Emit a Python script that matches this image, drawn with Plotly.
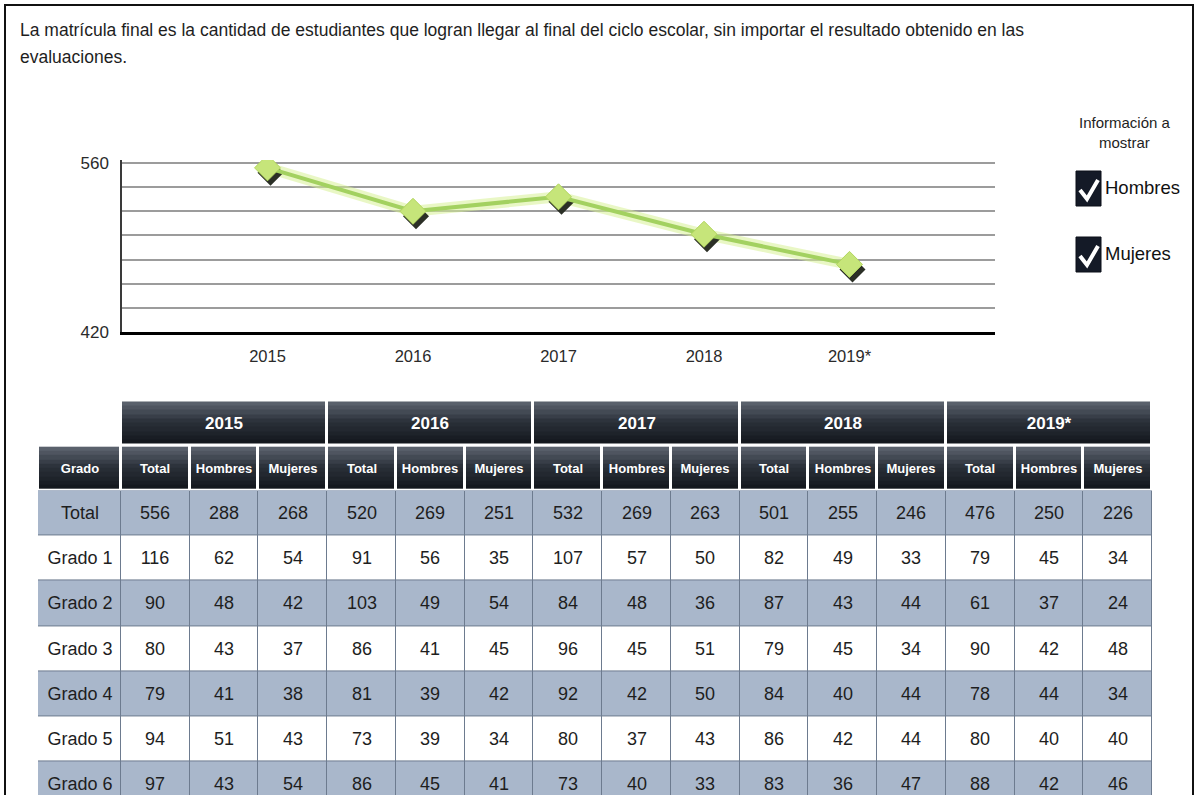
import plotly.graph_objects as go

W, H = 1197, 795

# ---------------- data ----------------
title_line1 = ("La matrícula final es la cantidad de estudiantes que logran llegar al final "
               "del ciclo escolar, sin importar el resultado obtenido en las")
title_line2 = "evaluaciones."

years = ["2015", "2016", "2017", "2018", "2019*"]
matricula_total = [556, 520, 532, 501, 476]
y_tick_vals = [420, 440, 460, 480, 500, 520, 540, 560]
y_tick_text = ["420", "", "", "", "", "", "", "560"]

legend_title = "Información a<br>mostrar"
legend_items = ["Hombres", "Mujeres"]

grado_header = "Grado"
sub_cols = ["Total", "Hombres", "Mujeres"]
grados = ["Total", "Grado 1", "Grado 2", "Grado 3", "Grado 4", "Grado 5", "Grado 6"]

y2015_total = [556, 116, 90, 80, 79, 94, 97]
y2015_hombres = [288, 62, 48, 43, 41, 51, 43]
y2015_mujeres = [268, 54, 42, 37, 38, 43, 54]

y2016_total = [520, 91, 103, 86, 81, 73, 86]
y2016_hombres = [269, 56, 49, 41, 39, 39, 45]
y2016_mujeres = [251, 35, 54, 45, 42, 34, 41]

y2017_total = [532, 107, 84, 96, 92, 80, 73]
y2017_hombres = [269, 57, 48, 45, 42, 37, 40]
y2017_mujeres = [263, 50, 36, 51, 50, 43, 33]

y2018_total = [501, 82, 87, 79, 84, 86, 83]
y2018_hombres = [255, 49, 43, 45, 40, 42, 36]
y2018_mujeres = [246, 33, 44, 34, 44, 44, 47]

y2019_total = [476, 79, 61, 90, 78, 80, 88]
y2019_hombres = [250, 45, 37, 42, 44, 40, 42]
y2019_mujeres = [226, 34, 24, 48, 34, 40, 46]

# ---------------- style ----------------
FONT = "Liberation Sans, Arial, sans-serif"
TXT = "#1e1e1e"
HEADER_TOP = "#5a616c"
HEADER_BOTTOM = "#14181e"
ROW_BLUE = "#a9b7cb"
ROW_WHITE = "#ffffff"
BORDER = "#6d7b8f"
LINE_GREEN = "#a3d160"
MARKER_GREEN = "#c6e57a"
CLEAR = "rgba(0,0,0,0)"


def px(x):
    return x / W


def py(y):
    return 1 - y / H


# chart geometry (pixels): 560 at y=163, 420 at y=332; plot top a bit higher so
# the 560 gridline is drawn
Y560_PX, Y420_PX = 163, 332
CH_L, CH_R, CH_B = 122, 995, Y420_PX
TOP_PAD = 3
CH_T = Y560_PX - TOP_PAD
uy = (max(y_tick_vals) - min(y_tick_vals)) / (Y420_PX - Y560_PX)
y_range = [min(y_tick_vals), max(y_tick_vals) + TOP_PAD * uy]
x_range = [-1, len(years)]
ux = (x_range[1] - x_range[0]) / (CH_R - CH_L)
SH_DX, SH_DY = 3, 5

# table geometry (pixels)
TB_L, TB_R, TB_T = 38, 1152, 400
ROW_H = 45.2
n_sub = len(years) * len(sub_cols)
GRADO_W = 83 / ((TB_R - TB_L - 83) / n_sub)
x_edges = [-GRADO_W] + list(range(n_sub + 1))
tbl_top = -2.5
tbl_bottom = tbl_top + (H - TB_T) / ROW_H
HEADER_GAP = 3
N_BANDS = 10

fig = go.Figure()

# glow under the line (base axes)
fig.add_trace(go.Scatter(
    x=years, y=matricula_total, mode="lines",
    line=dict(color="rgba(215,240,150,0.55)", width=11),
    hoverinfo="skip", showlegend=False, xaxis="x", yaxis="y"))

# marker shadow (shifted overlay axes)
fig.add_trace(go.Scatter(
    x=years, y=matricula_total, mode="markers",
    marker=dict(symbol="diamond", size=20, color="#2b2f26"),
    hoverinfo="skip", showlegend=False, xaxis="x2", yaxis="y2"))

# main line + markers
fig.add_trace(go.Scatter(
    x=years, y=matricula_total, mode="lines+markers",
    line=dict(color=LINE_GREEN, width=4),
    marker=dict(symbol="diamond", size=20, color=MARKER_GREEN,
                line=dict(color="#b2d65e", width=1)),
    showlegend=False, xaxis="x3", yaxis="y3"))


# ---------------- table (heatmaps) ----------------
def header_row(xe, row_top, labels, size):
    gap_u = HEADER_GAP / ROW_H
    y0, y1 = row_top + gap_u / 2, row_top + 1 - gap_u / 2
    band_edges = [y0 + (y1 - y0) * k / N_BANDS for k in range(N_BANDS + 1)]
    n = len(labels)
    # gradient background
    fig.add_trace(go.Heatmap(
        x=xe, y=band_edges, z=[[k] * n for k in range(N_BANDS)],
        zmin=0, zmax=N_BANDS - 1,
        colorscale=[[0, HEADER_TOP], [0.45, "#2c323b"], [1, HEADER_BOTTOM]],
        showscale=False, xgap=HEADER_GAP, ygap=0, hoverinfo="skip",
        xaxis="x4", yaxis="y4"))
    # labels
    fig.add_trace(go.Heatmap(
        x=xe, y=[row_top, row_top + 1], z=[[0] * n],
        text=[labels], texttemplate="%{text}",
        textfont=dict(family=FONT, size=size, color="white", weight="bold"),
        colorscale=[[0, CLEAR], [1, CLEAR]], showscale=False,
        hoverinfo="skip", xaxis="x4", yaxis="y4"))


year_edges = list(range(0, n_sub + 1, len(sub_cols)))
header_row(year_edges, tbl_top, years, 17)
col_labels = [grado_header] + sub_cols * len(years)
header_row(x_edges, tbl_top + 1, col_labels, 13)

columns = [
    y2015_total, y2015_hombres, y2015_mujeres,
    y2016_total, y2016_hombres, y2016_mujeres,
    y2017_total, y2017_hombres, y2017_mujeres,
    y2018_total, y2018_hombres, y2018_mujeres,
    y2019_total, y2019_hombres, y2019_mujeres,
]
cell_text = [[g] + [str(col[i]) for col in columns] for i, g in enumerate(grados)]
cell_z = [[i % 2] * (len(columns) + 1) for i in range(len(grados))]
row_edges = [tbl_top + 2 + i for i in range(len(grados) + 1)]
fig.add_trace(go.Heatmap(
    x=x_edges, y=row_edges, z=cell_z, zmin=0, zmax=1,
    text=cell_text, texttemplate="%{text}",
    textfont=dict(family=FONT, size=18, color=TXT),
    colorscale=[[0, ROW_BLUE], [1, ROW_WHITE]], showscale=False,
    xgap=1, ygap=1, hoverinfo="skip", xaxis="x4", yaxis="y4"))

shapes = [
    # border color under data cells
    dict(type="rect", xref="x4", yref="y4", x0=x_edges[0], x1=x_edges[-1],
         y0=row_edges[0], y1=row_edges[-1], fillcolor=BORDER,
         line=dict(width=0), layer="below"),
    # page frame (left, top, right)
    dict(type="path", xref="paper", yref="paper",
         path=f"M {px(5)} {py(H)} L {px(5)} {py(5)} L {px(1193)} {py(5)} L {px(1193)} {py(H)}",
         line=dict(color="#111111", width=2)),
]

annotations = [
    dict(text=title_line1, x=px(18), y=py(30), xref="paper", yref="paper",
         xanchor="left", yanchor="middle", showarrow=False,
         font=dict(family=FONT, size=17.5, color=TXT)),
    dict(text=title_line2, x=px(18), y=py(57), xref="paper", yref="paper",
         xanchor="left", yanchor="middle", showarrow=False,
         font=dict(family=FONT, size=17.5, color=TXT)),
    dict(text=legend_title, x=px(1125), y=py(133), xref="paper", yref="paper",
         xanchor="center", yanchor="middle", showarrow=False, align="center",
         font=dict(family=FONT, size=15, color=TXT)),
]

box_tops = [171, 237]
for label, top in zip(legend_items, box_tops):
    shapes.append(dict(type="rect", xref="paper", yref="paper",
                       x0=px(1076), x1=px(1101), y0=py(top), y1=py(top + 35),
                       fillcolor="#141a27", line=dict(color="#0b0f18", width=1)))
    shapes.append(dict(type="path", xref="paper", yref="paper",
                       path=(f"M {px(1080)} {py(top + 19)} L {px(1087)} {py(top + 28)} "
                             f"L {px(1098)} {py(top + 9)}"),
                       line=dict(color="white", width=4)))
    annotations.append(dict(text=label, x=px(1103), y=py(top + 17), xref="paper", yref="paper",
                            xanchor="left", yanchor="middle", showarrow=False,
                            font=dict(family=FONT, size=18.5, color="#111111")))

fig.update_layout(
    width=W, height=H,
    margin=dict(l=0, r=0, t=0, b=0, pad=0),
    paper_bgcolor="white", plot_bgcolor="white",
    showlegend=False,
    font=dict(family=FONT, color=TXT),
    xaxis=dict(domain=[px(CH_L), px(CH_R)], type="category", categoryorder="array",
               categoryarray=years, range=x_range, showgrid=False, zeroline=False,
               showline=True, linecolor="#000000", linewidth=3, ticks="",
               ticklabelstandoff=7, tickfont=dict(family=FONT, size=16.5, color="#2a2a2a"),
               anchor="y", fixedrange=True, automargin=False),
    yaxis=dict(domain=[py(CH_B), py(CH_T)], range=y_range, tickvals=y_tick_vals,
               ticktext=y_tick_text, showgrid=True, gridcolor="#9c9c9c", gridwidth=2,
               zeroline=False, showline=True, linecolor="#3a3a3a", linewidth=1.5,
               ticks="", ticklabelstandoff=8,
               tickfont=dict(family=FONT, size=17, color="#2a2a2a"),
               anchor="x", fixedrange=True, automargin=False),
    xaxis2=dict(domain=[px(CH_L), px(CH_R)], type="category", categoryorder="array",
                categoryarray=years, overlaying="x",
                range=[x_range[0] - SH_DX * ux, x_range[1] - SH_DX * ux],
                visible=False, anchor="y2", fixedrange=True),
    yaxis2=dict(domain=[py(CH_B), py(CH_T)], overlaying="y",
                range=[y_range[0] + SH_DY * uy, y_range[1] + SH_DY * uy],
                visible=False, anchor="x2", fixedrange=True),
    xaxis3=dict(domain=[px(CH_L), px(CH_R)], type="category", categoryorder="array",
                categoryarray=years, overlaying="x", range=x_range,
                visible=False, anchor="y3", fixedrange=True),
    yaxis3=dict(domain=[py(CH_B), py(CH_T)], overlaying="y", range=y_range,
                visible=False, anchor="x3", fixedrange=True),
    xaxis4=dict(domain=[px(TB_L), px(TB_R)], range=[x_edges[0], x_edges[-1]],
                visible=False, anchor="y4", fixedrange=True),
    yaxis4=dict(domain=[0, py(TB_T)], range=[tbl_bottom, tbl_top],
                visible=False, anchor="x4", fixedrange=True),
    shapes=shapes,
    annotations=annotations,
)

fig.write_html("out.html", config={"displayModeBar": False},
               post_script="document.body.style.margin='0';document.body.style.overflow='hidden';")
